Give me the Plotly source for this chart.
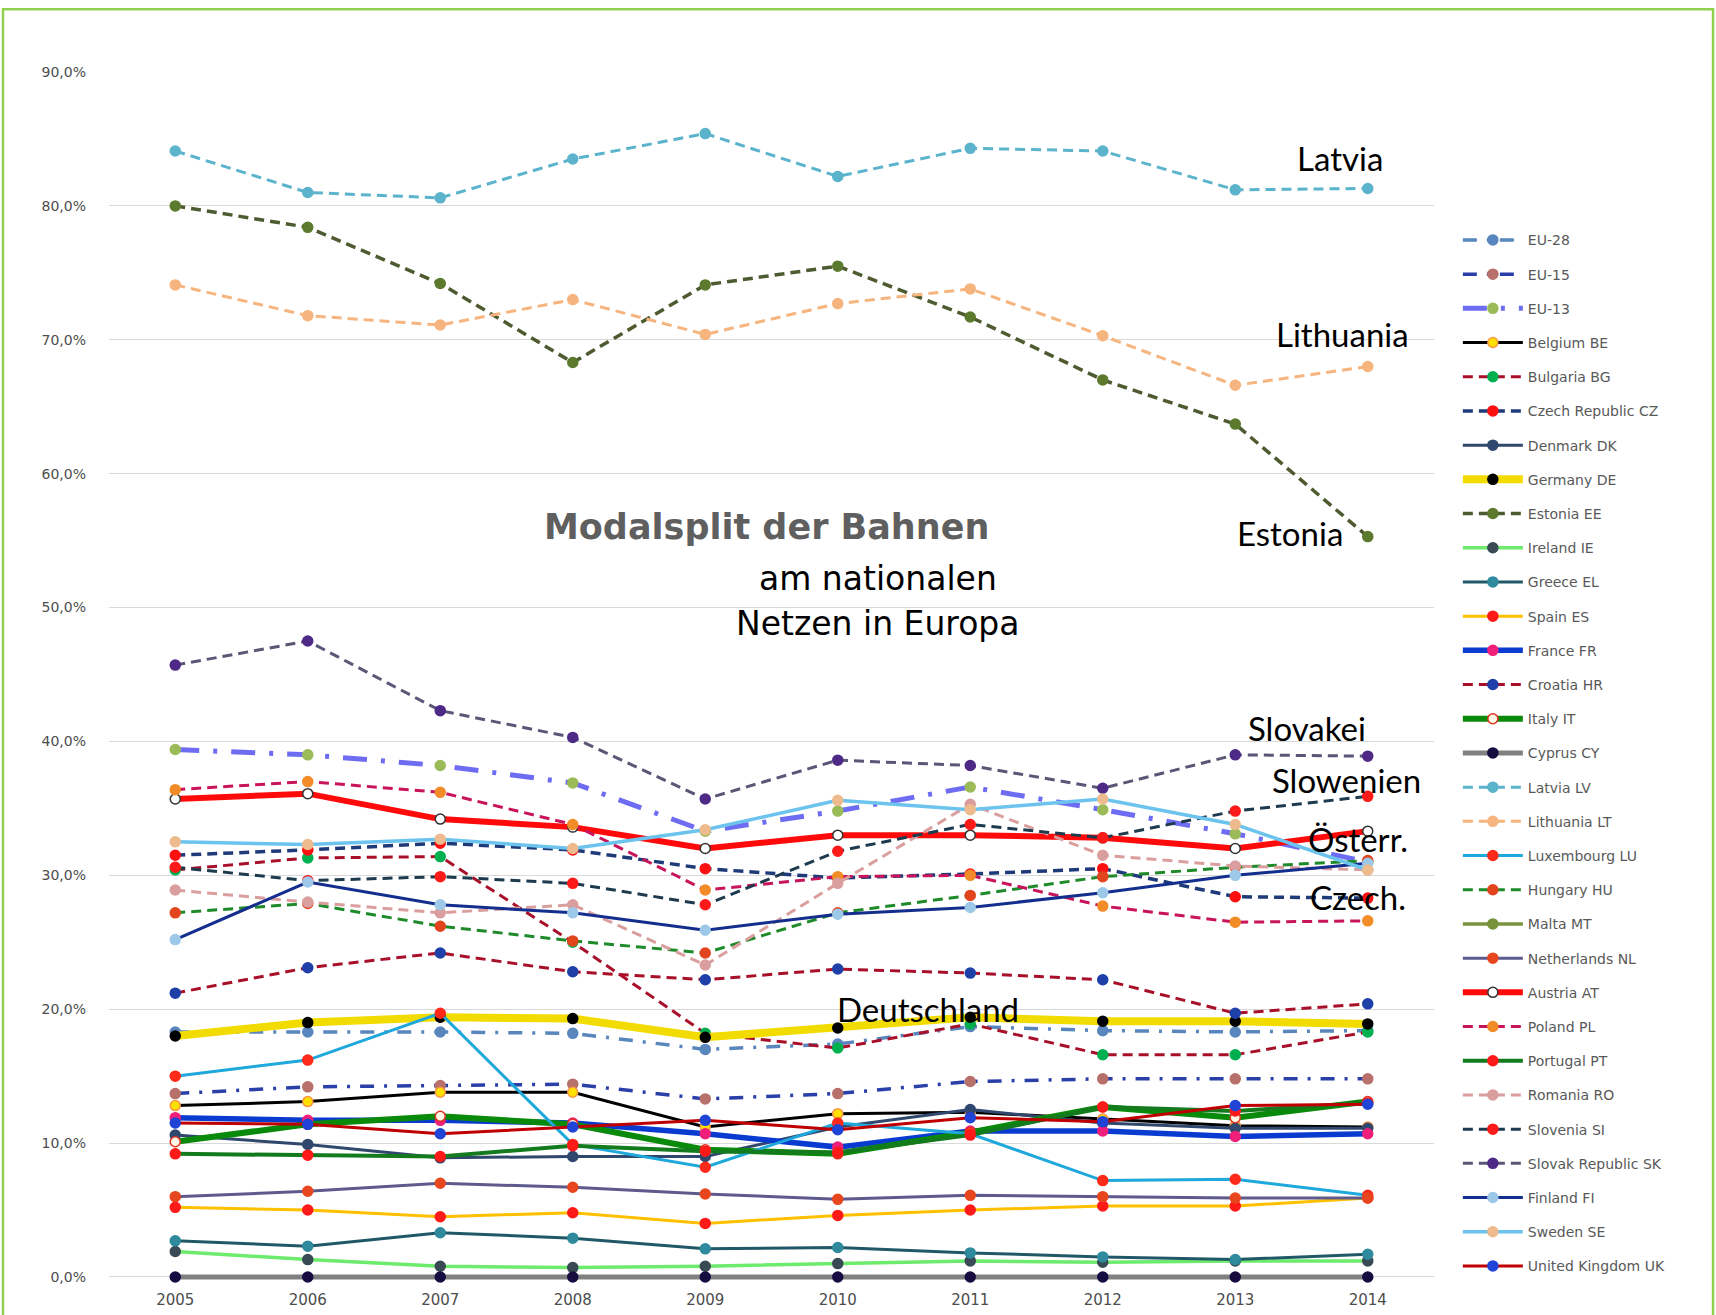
import plotly.graph_objects as go

years = [2005, 2006, 2007, 2008, 2009, 2010, 2011, 2012, 2013, 2014]
y_ticks = [0, 10, 20, 30, 40, 50, 60, 70, 80, 90]
y_tick_labels = ["0,0%", "10,0%", "20,0%", "30,0%", "40,0%", "50,0%", "60,0%", "70,0%", "80,0%", "90,0%"]

eu28 = [18.3, 18.3, 18.3, 18.2, 17.0, 17.4, 18.7, 18.4, 18.3, 18.4]
eu15 = [13.7, 14.2, 14.3, 14.4, 13.3, 13.7, 14.6, 14.8, 14.8, 14.8]
eu13 = [39.4, 39.0, 38.2, 36.9, 33.3, 34.8, 36.6, 34.9, 33.1, 31.0]
belgium = [12.8, 13.1, 13.8, 13.8, 11.2, 12.2, 12.3, 11.8, 11.3, 11.2]
bulgaria = [30.4, 31.3, 31.4, 25.0, 18.2, 17.1, 18.9, 16.6, 16.6, 18.3]
czech = [31.5, 31.9, 32.4, 31.9, 30.5, 29.8, 30.1, 30.5, 28.4, 28.3]
denmark = [10.6, 9.9, 8.9, 9.0, 9.0, 11.2, 12.5, 11.5, 11.1, 11.1]
germany = [18.0, 19.0, 19.4, 19.3, 17.9, 18.6, 19.4, 19.1, 19.1, 18.9]
estonia = [80.0, 78.4, 74.2, 68.3, 74.1, 75.5, 71.7, 67.0, 63.7, 55.3]
ireland = [1.9, 1.3, 0.8, 0.7, 0.8, 1.0, 1.2, 1.1, 1.2, 1.2]
greece = [2.7, 2.3, 3.3, 2.9, 2.1, 2.2, 1.8, 1.5, 1.3, 1.7]
spain = [5.2, 5.0, 4.5, 4.8, 4.0, 4.6, 5.0, 5.3, 5.3, 5.9]
france = [11.9, 11.7, 11.7, 11.5, 10.7, 9.7, 10.9, 10.9, 10.5, 10.7]
croatia = [21.2, 23.1, 24.2, 22.8, 22.2, 23.0, 22.7, 22.2, 19.7, 20.4]
italy = [10.1, 11.4, 12.0, 11.4, 9.5, 9.2, 10.8, 12.7, 11.9, 13.1]
cyprus = [0.0, 0.0, 0.0, 0.0, 0.0, 0.0, 0.0, 0.0, 0.0, 0.0]
latvia = [84.1, 81.0, 80.6, 83.5, 85.4, 82.2, 84.3, 84.1, 81.2, 81.3]
lithuania = [74.1, 71.8, 71.1, 73.0, 70.4, 72.7, 73.8, 70.3, 66.6, 68.0]
luxembourg = [15.0, 16.2, 19.7, 9.9, 8.2, 11.5, 10.7, 7.2, 7.3, 6.1]
hungary = [27.2, 27.9, 26.2, 25.1, 24.2, 27.2, 28.5, 29.9, 30.6, 31.1]
malta = [None, None, None, None, None, None, None, None, None, None]
netherlands = [6.0, 6.4, 7.0, 6.7, 6.2, 5.8, 6.1, 6.0, 5.9, 5.9]
austria = [35.7, 36.1, 34.2, 33.6, 32.0, 33.0, 33.0, 32.8, 32.0, 33.3]
poland = [36.4, 37.0, 36.2, 33.8, 28.9, 29.9, 30.0, 27.7, 26.5, 26.6]
portugal = [9.2, 9.1, 9.0, 9.8, 9.4, 9.3, 10.6, 12.7, 12.4, 13.0]
romania = [28.9, 28.0, 27.2, 27.8, 23.3, 29.4, 35.3, 31.5, 30.7, 30.4]
slovenia = [30.6, 29.6, 29.9, 29.4, 27.8, 31.8, 33.8, 32.8, 34.8, 35.9]
slovakia = [45.7, 47.5, 42.3, 40.3, 35.7, 38.6, 38.2, 36.5, 39.0, 38.9]
finland = [25.2, 29.5, 27.8, 27.2, 25.9, 27.1, 27.6, 28.7, 30.0, 30.9]
sweden = [32.5, 32.3, 32.7, 32.0, 33.4, 35.6, 34.9, 35.7, 33.8, 30.4]
uk = [11.5, 11.4, 10.7, 11.2, 11.7, 11.0, 11.9, 11.6, 12.8, 12.9]

DASH = "10px,6px"
EUDASH = "14px,10px,3px,10px"
EU13DASH = "24px,14px,4px,14px"

# name, values, line colour, width, dash, marker colour, marker outline colour
series = [
    ("EU-28", eu28, "#5A86BE", 3.5, EUDASH, "#5A86BE", "#5A86BE"),
    ("EU-15", eu15, "#2A3FA8", 3.5, EUDASH, "#B7706A", "#B7706A"),
    ("EU-13", eu13, "#6E6CF2", 5, EU13DASH, "#9BBB59", "#9BBB59"),
    ("Belgium BE", belgium, "#000000", 3, "solid", "#FFE000", "#F79646"),
    ("Bulgaria BG", bulgaria, "#A8102A", 3, DASH, "#00B050", "#00B050"),
    ("Czech Republic CZ", czech, "#1F3A78", 3.5, DASH, "#FF1010", "#FF1010"),
    ("Denmark DK", denmark, "#30486E", 3, "solid", "#30486E", "#30486E"),
    ("Germany DE", germany, "#F2DC00", 8, "solid", "#000000", "#000000"),
    ("Estonia EE", estonia, "#4E5B30", 3.5, DASH, "#5C7A2E", "#5C7A2E"),
    ("Ireland IE", ireland, "#6CEB6C", 3.5, "solid", "#3A4A55", "#3A4A55"),
    ("Greece EL", greece, "#215868", 3, "solid", "#2E8A9C", "#2E8A9C"),
    ("Spain ES", spain, "#FFC000", 3, "solid", "#FF1A1A", "#FF1A1A"),
    ("France FR", france, "#0A3BD0", 5.5, "solid", "#F0207A", "#F0207A"),
    ("Croatia HR", croatia, "#A8102A", 3, DASH, "#1E40A8", "#1E40A8"),
    ("Italy IT", italy, "#0A8A0A", 6, "solid", "#FFF8E6", "#E03020"),
    ("Cyprus CY", cyprus, "#808080", 5, "solid", "#160C40", "#160C40"),
    ("Latvia LV", latvia, "#5BB3CC", 3, DASH, "#5BB3CC", "#5BB3CC"),
    ("Lithuania LT", lithuania, "#F6B47E", 3, DASH, "#F6B47E", "#F6B47E"),
    ("Luxembourg LU", luxembourg, "#1EA8DC", 3, "solid", "#FF2A1A", "#FF2A1A"),
    ("Hungary HU", hungary, "#1E8A2A", 3, DASH, "#E2451E", "#E2451E"),
    ("Malta MT", malta, "#77933C", 3.5, "solid", "#77933C", "#77933C"),
    ("Netherlands NL", netherlands, "#5E5A8C", 3, "solid", "#E8461E", "#E8461E"),
    ("Austria AT", austria, "#FF0A0A", 6, "solid", "#FFFFFF", "#333333"),
    ("Poland PL", poland, "#C8145A", 3, DASH, "#F28C28", "#F28C28"),
    ("Portugal PT", portugal, "#137A1E", 4, "solid", "#FF1A1A", "#FF1A1A"),
    ("Romania RO", romania, "#DA9E9E", 3, DASH, "#DA9E9E", "#DA9E9E"),
    ("Slovenia SI", slovenia, "#1E3A4E", 3, DASH, "#FF1A1A", "#FF1A1A"),
    ("Slovak Republic SK", slovakia, "#5A5676", 3, DASH, "#4E2A86", "#4E2A86"),
    ("Finland FI", finland, "#142E8E", 3, "solid", "#9DC8E8", "#9DC8E8"),
    ("Sweden SE", sweden, "#6CC4EE", 3.5, "solid", "#EDBB8E", "#EDBB8E"),
    ("United Kingdom UK", uk, "#C00000", 3, "solid", "#1F44D6", "#1F44D6"),
]

fig = go.Figure()
for name, vals, col, w, dash, mcol, mline in series:
    fig.add_trace(go.Scatter(
        x=years, y=vals, name=name, legendgroup=name, mode="lines+markers",
        line=dict(color=col, width=w, dash=dash),
        marker=dict(size=10, color=mcol, line=dict(color=mline, width=1.5)),
        cliponaxis=False,
    ))

label_font = dict(family="Lato", size=33, color="#000000")
labels = [
    ("Latvia", 2013.79, 83.6),
    ("Lithuania", 2013.81, 70.4),
    ("Estonia", 2013.41, 55.6),
    ("Slovakei", 2013.54, 41.0),
    ("Slowenien", 2013.84, 37.1),
    ("Österr.", 2013.93, 32.7),
    ("Czech.", 2013.93, 28.4),
    ("Deutschland", 2010.68, 20.0),
]
annotations = [dict(x=lx, y=ly, xref="x", yref="y", text=t, showarrow=False,
                    font=label_font, xanchor="center", yanchor="middle")
               for t, lx, ly in labels]
annotations += [
    dict(x=2009.46, y=56.0, xref="x", yref="y", text="<b>Modalsplit der Bahnen</b>",
         showarrow=False, font=dict(family="DejaVu Sans", size=35, color="#5F5F5F"),
         xanchor="center", yanchor="middle"),
    dict(x=2010.30, y=52.2, xref="x", yref="y", text="am nationalen",
         showarrow=False, font=dict(family="DejaVu Sans", size=33, color="#000000"),
         xanchor="center", yanchor="middle"),
    dict(x=2010.30, y=48.8, xref="x", yref="y", text="Netzen in Europa",
         showarrow=False, font=dict(family="DejaVu Sans", size=33, color="#000000"),
         xanchor="center", yanchor="middle"),
]

fig.update_layout(
    width=1716, height=1315,
    margin=dict(l=109, r=282, t=72, b=34, autoexpand=False),
    paper_bgcolor="white", plot_bgcolor="white",
    showlegend=True,
    legend=dict(x=1.018, y=0.874, xanchor="left", yanchor="top",
                font=dict(family="DejaVu Sans", size=14, color="#595959"),
                itemwidth=60, tracegroupgap=13, bgcolor="rgba(0,0,0,0)",
                traceorder="grouped"),
    annotations=annotations,
    shapes=[dict(type="rect", xref="paper", yref="paper", x0=-0.08, x1=1.2106,
                 y0=-0.04, y1=1.052, line=dict(color="#92D050", width=2.5))],
    xaxis=dict(range=[2004.5, 2014.5], tickvals=years, showgrid=False, zeroline=False,
               showline=False, ticks="", ticklabelstandoff=8, automargin=False,
               tickfont=dict(family="DejaVu Sans", size=15, color="#4D4D4D")),
    yaxis=dict(range=[-0.3, 90], tickvals=y_ticks, ticktext=y_tick_labels,
               showgrid=True, gridcolor="#D9D9D9", gridwidth=1, zeroline=False,
               showline=False, ticks="", ticklabelstandoff=22, automargin=False,
               tickfont=dict(family="DejaVu Sans", size=14, color="#4D4D4D")),
)

fig.write_html("out.html")
